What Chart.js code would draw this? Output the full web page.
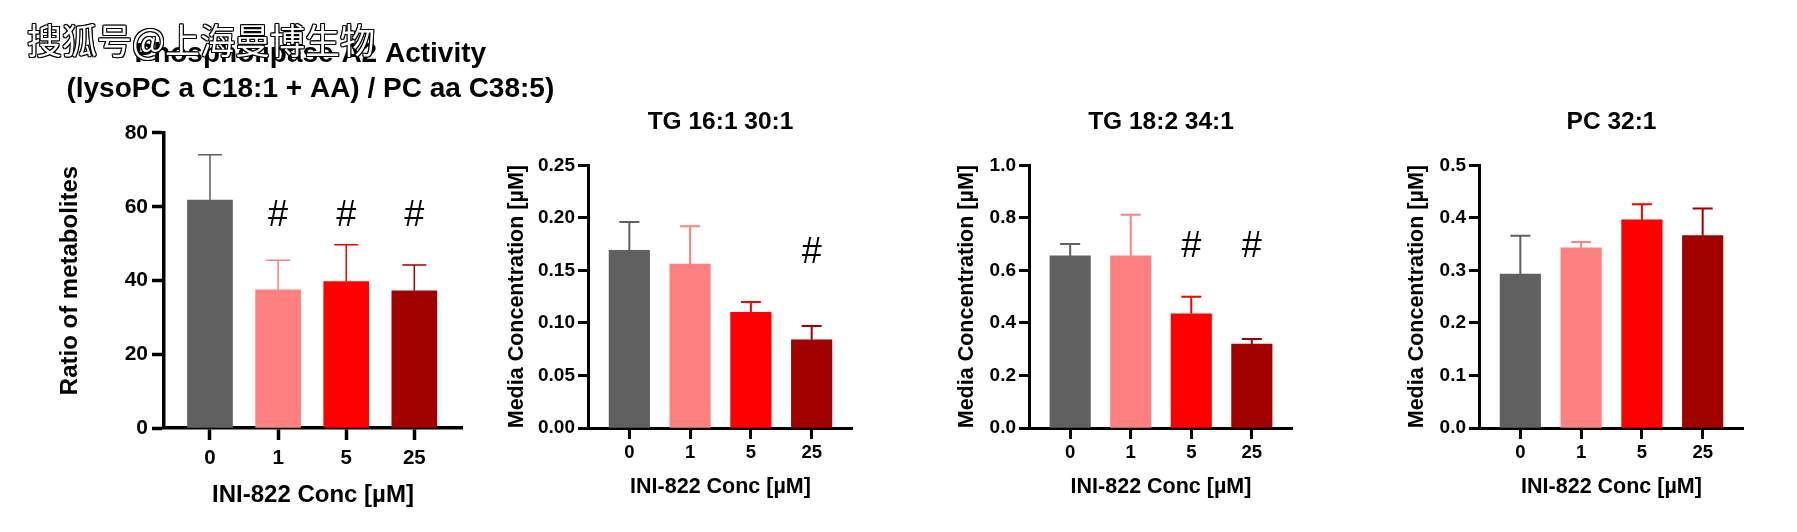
<!DOCTYPE html>
<html>
<head>
<meta charset="utf-8">
<script src="https://cdn.jsdelivr.net/npm/chart.js@4/dist/chart.umd.min.js"></script>
<style>
  html, body { margin: 0; padding: 0; background: #fff; }
  body { position: relative; width: 1797px; height: 532px; overflow: hidden; }
  canvas { position: absolute; top: 0; }
  .watermark {
    position: absolute; left: 27px; top: 20.5px; z-index: 5;
    font: 35px "Noto Sans CJK SC", sans-serif; line-height: 36px;
    color: #fff; white-space: nowrap;
    text-shadow: 1px 0 #000, -1px 0 #000, 0 1px #000, 0 -1px #000,
                 1px 1px #000, -1px -1px #000, 1px -1px #000, -1px 1px #000;
  }
</style>
</head>
<body>
<div class="watermark">搜狐号@上海曼博生物</div>
<script>
// categories (INI-822 dose, µM)
const doses = ['0', '1', '5', '25'];
const barColors = ['#606060', '#ff8080', '#ff0000', '#a00000'];

// Phospholipase A2 activity ratio
const pla2Mean = [61.8, 37.5, 39.7, 37.2];
const pla2Err = [12.3, 8.0, 10.0, 7.0];
const pla2Hash = [false, true, true, true];

// TG 16:1 30:1
const tg161Mean = [0.169, 0.156, 0.110, 0.084];
const tg161Err = [0.027, 0.036, 0.010, 0.013];
const tg161Hash = [false, false, false, true];

// TG 18:2 34:1
const tg182Mean = [0.655, 0.655, 0.435, 0.319];
const tg182Err = [0.045, 0.157, 0.065, 0.020];
const tg182Hash = [false, false, true, true];

// PC 32:1
const pc321Mean = [0.293, 0.343, 0.396, 0.366];
const pc321Err = [0.073, 0.011, 0.030, 0.052];
const pc321Hash = [false, false, false, false];

Chart.defaults.font.family = '"Liberation Sans", Arial, sans-serif';
Chart.defaults.font.weight = 'bold';
Chart.defaults.color = '#000';

/**
 * Draws the upper SD whisker for each bar and the "#" significance marks.
 */
const errorBarPlugin = {
    id: 'errorBars',
    afterDatasetsDraw(chart, args, opts) {
        const { ctx } = chart;
        const y = chart.scales.y;
        const ds = chart.data.datasets[0];
        const bars = chart.getDatasetMeta(0).data;
        ctx.save();
        bars.forEach((bar, i) => {
            const mean = ds.data[i].y;
            const base = y.getPixelForValue(mean);
            const top = y.getPixelForValue(mean + opts.errors[i]);
            ctx.strokeStyle = ds.backgroundColor[i];
            ctx.lineWidth = opts.lineWidth;
            ctx.beginPath();
            ctx.moveTo(bar.x, base);
            ctx.lineTo(bar.x, top);
            ctx.moveTo(bar.x - opts.cap / 2, top);
            ctx.lineTo(bar.x + opts.cap / 2, top);
            ctx.stroke();
            if (opts.hashes[i]) {
                ctx.fillStyle = '#000';
                ctx.font = 'normal 36px "Liberation Sans", Arial, sans-serif';
                ctx.textAlign = 'center';
                ctx.textBaseline = 'middle';
                ctx.fillText('#', bar.x, y.getPixelForValue(opts.hashAt));
            }
        });
        ctx.restore();
    }
};

function makePanel(p) {
    const canvas = document.createElement('canvas');
    canvas.width = p.width;
    canvas.height = 532;
    canvas.style.left = p.left + 'px';
    document.body.appendChild(canvas);

    const grid = {
        display: true,
        offset: false,
        drawOnChartArea: false,
        drawTicks: true,
        tickColor: '#000',
        tickWidth: p.line
    };
    const border = { display: true, color: '#000', width: p.line };

    const scales = {
        x: {
            type: 'linear',
            offset: false,
            min: p.xMin,
            max: p.xMax,
            afterBuildTicks: s => { s.ticks = doses.map((d, i) => ({ value: i })); },
            afterFit: s => { s.height = p.xHeight; },
            ticks: {
                autoSkip: false,
                maxRotation: 0,
                padding: p.xTickPad,
                font: { size: p.xTickSize },
                callback: v => doses[v]
            },
            grid: Object.assign({}, grid, { tickLength: p.xTickLen }),
            border: border,
            title: {
                display: true,
                text: 'INI-822 Conc [µM]',
                font: { size: p.axisTitleSize, lineHeight: 1.2 },
                padding: 0
            }
        },
        y: {
            min: 0,
            max: p.yMax,
            afterFit: s => { s.width = p.yWidth; },
            ticks: {
                stepSize: p.yStep,
                padding: p.yTickPad,
                font: { size: p.yTickSize },
                callback: v => v.toFixed(p.decimals)
            },
            grid: Object.assign({}, grid, { tickLength: p.yTickLen }),
            border: border,
            title: {
                display: true,
                text: p.yTitle,
                font: { size: p.axisTitleSize, lineHeight: 1.2 },
                padding: { top: p.yTitlePad, bottom: 0 }
            }
        }
    };
    if (p.rightGap) {
        // empty box on the right so the wide title stays centred where it is
        scales.y2 = {
            position: 'right',
            display: true,
            grid: { display: false, drawTicks: false },
            border: { display: false },
            ticks: { display: false },
            afterFit: s => { s.width = p.rightGap; }
        };
    }

    return new Chart(canvas, {
        type: 'bar',
        data: {
            datasets: [{
                data: p.mean.map((v, i) => ({ x: i, y: v })),
                backgroundColor: barColors,
                barThickness: p.barWidth
            }]
        },
        plugins: [errorBarPlugin],
        options: {
            responsive: false,
            animation: false,
            devicePixelRatio: 1,
            layout: { padding: p.padding },
            scales: scales,
            plugins: {
                legend: { display: false },
                tooltip: { enabled: false },
                title: {
                    display: true,
                    text: p.title,
                    fullSize: p.fullTitle,
                    font: { size: p.titleSize, lineHeight: p.titleLineHeight },
                    padding: { top: 0, bottom: p.titleGap }
                },
                errorBars: {
                    errors: p.err,
                    hashes: p.hash,
                    hashAt: p.hashAt,
                    cap: p.cap,
                    lineWidth: p.errLine
                }
            }
        }
    });
}

const smallPanel = {
    fullTitle: false, titleSize: 24.5, titleLineHeight: 1.2, titleGap: 28.6,
    padding: { left: 0, right: 0, top: 107.3, bottom: 32.4 },
    xMin: -0.68, xMax: 3.68, xHeight: 71.6, xTickPad: 3.2, xTickLen: 11,
    yTickPad: 3, yTickLen: 10, yTitlePad: 3.8,
    xTickSize: 18.5, yTickSize: 19, axisTitleSize: 21.5, line: 3,
    barWidth: 40.5, cap: 20, errLine: 2
};

makePanel({
    left: 0, width: 565,
    title: ['Phospholipase A2 Activity', '(lysoPC a C18:1 + AA) / PC aa C38:5)'],
    fullTitle: true, titleSize: 28, titleLineHeight: 1.23, titleGap: 26.9,
    padding: { left: 55.6, right: 0, top: 37.2, bottom: 22.6 },
    rightGap: 103,
    xMin: -0.675, xMax: 3.70, xHeight: 81.4, xTickPad: 6, xTickLen: 12,
    yWidth: 108.4, yTickPad: 4, yTickLen: 12, yTitlePad: 0,
    xTickSize: 20.5, yTickSize: 21, axisTitleSize: 24, line: 3.5,
    barWidth: 45, cap: 24, errLine: 1.5,
    yTitle: 'Ratio of metabolites', yMax: 80, yStep: 20, decimals: 0,
    mean: pla2Mean, err: pla2Err, hash: pla2Hash, hashAt: 57.4
});

makePanel(Object.assign({}, smallPanel, {
    left: 500, width: 353, yWidth: 88,
    title: 'TG 16:1 30:1', yTitle: 'Media Concentration [µM]',
    yMax: 0.25, yStep: 0.05, decimals: 2,
    mean: tg161Mean, err: tg161Err, hash: tg161Hash, hashAt: 0.166
}));

makePanel(Object.assign({}, smallPanel, {
    left: 950, width: 343, yWidth: 79,
    title: 'TG 18:2 34:1', yTitle: 'Media Concentration [µM]',
    yMax: 1.0, yStep: 0.2, decimals: 1,
    mean: tg182Mean, err: tg182Err, hash: tg182Hash, hashAt: 0.689
}));

makePanel(Object.assign({}, smallPanel, {
    left: 1400, width: 344, yWidth: 79,
    title: 'PC 32:1', yTitle: 'Media Concentration [µM]',
    yMax: 0.5, yStep: 0.1, decimals: 1,
    mean: pc321Mean, err: pc321Err, hash: pc321Hash, hashAt: 0
}));
</script>
</body>
</html>
